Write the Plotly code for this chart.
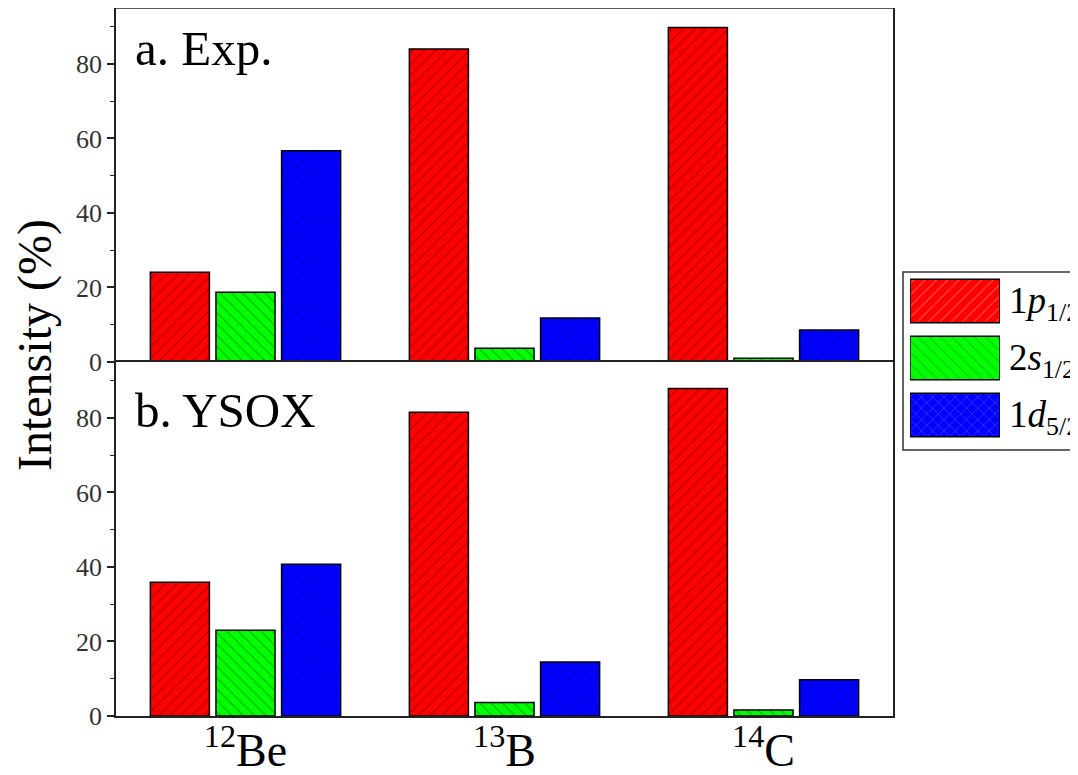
import plotly.graph_objects as go

# ---- data ----
nuclei = ["12Be", "13B", "14C"]
nuclei_labels = ["<sup>12</sup>Be", "<sup>13</sup>B", "<sup>14</sup>C"]
orbitals = ["1p1/2", "2s1/2", "1d5/2"]
orbital_labels = ["1<i>p</i><sub>1/2</sub>", "2<i>s</i><sub>1/2</sub>", "1<i>d</i><sub>5/2</sub>"]

exp_p12 = [24.1, 84.0, 89.8]
exp_s12 = [18.7, 3.7, 1.0]
exp_d52 = [56.7, 11.8, 8.6]

ysox_p12 = [35.9, 81.5, 87.9]
ysox_s12 = [23.0, 3.6, 1.6]
ysox_d52 = [40.7, 14.5, 9.7]

panel_titles = ["a. Exp.", "b. YSOX"]
colors = ["#ff0000", "#00ff00", "#0000ff"]
patterns = ["/", "\\", "x"]

FONT = "Liberation Serif, serif"
OFF = 8  # page body margin
W, H = 1078 - OFF, 775 - OFF
ML, MR, MT = 116 - OFF, 0, 8 - OFF
MB = H - (716 - OFF)
PW = W - ML - MR
PH = H - MT - MB


def px_x(px):
    return (px - OFF - ML) / PW


def px_y(py):
    return (H - MB - (py - OFF)) / PH


fig = go.Figure()

panels = [
    ("x", "y", [exp_p12, exp_s12, exp_d52]),
    ("x2", "y2", [ysox_p12, ysox_s12, ysox_d52]),
]
for xa, ya, series in panels:
    for vals, col, pat, name in zip(series, colors, patterns, orbitals):
        fig.add_trace(go.Bar(
            x=nuclei, y=vals, name=name, xaxis=xa, yaxis=ya,
            showlegend=False,
            marker=dict(color=col, line=dict(color="black", width=1.5),
                        pattern=dict(shape=pat, fgcolor="black", fgopacity=0.35,
                                     size=8, solidity=0.12)),
        ))

# custom legend swatches (patterned)
fig.add_trace(go.Bar(
    x=[1, 1, 1], y=[0, 1, 2], orientation="h", xaxis="x3", yaxis="y3",
    width=0.76, offset=-0.38, showlegend=False, hoverinfo="skip",
    marker=dict(color=colors, line=dict(color="black", width=1.5),
                pattern=dict(shape=patterns, fgcolor="black", fgopacity=0.35,
                             size=8, solidity=0.12)),
))

main_dom = [0, 777 / PW]
axis_common = dict(showline=True, linecolor="#222", linewidth=1.5, mirror=True,
                   showgrid=False, zeroline=False, automargin=False)
yaxis_common = dict(axis_common, range=[0, 95], dtick=20, tick0=0,
                    ticks="outside", ticklen=7, tickwidth=1.5, tickcolor="#222",
                    minor=dict(dtick=10, ticks="outside", ticklen=4, tickwidth=1.2, tickcolor="#222"),
                    tickfont=dict(family=FONT, size=26, color="#333"))

fig.update_layout(
    width=W, height=H,
    margin=dict(l=ML, r=MR, t=MT, b=MB, autoexpand=False),
    paper_bgcolor="white", plot_bgcolor="white",
    barmode="group", bargap=0.24, bargroupgap=0.1,
    xaxis=dict(domain=main_dom, anchor="y", type="category", showline=False,
               showgrid=False, zeroline=False, automargin=False,
               range=[-0.5, 2.5], showticklabels=False, ticks=""),
    yaxis=dict(yaxis_common, domain=[0.5, 1], anchor="x"),
    xaxis2=dict(axis_common, domain=main_dom, anchor="y2", type="category",
                range=[-0.5, 2.5], tickvals=nuclei, ticktext=nuclei_labels, ticks="",
                ticklabelstandoff=-7,
                tickfont=dict(family=FONT, size=46, color="black")),
    yaxis2=dict(yaxis_common, domain=[0, 0.5], anchor="x2"),
    xaxis3=dict(domain=[px_x(910), px_x(1000)], anchor="y3", range=[0, 1],
                visible=False, fixedrange=True, automargin=False),
    yaxis3=dict(domain=[px_y(443.5), px_y(272.5)], anchor="x3", range=[2.5, -0.5],
                visible=False, fixedrange=True, automargin=False),
    showlegend=False,
)

# top border of the upper panel
fig.add_shape(type="line", xref="paper", yref="paper", x0=main_dom[0], x1=main_dom[1],
              y0=1, y1=1, line=dict(color="#222", width=1.5))

# legend box
fig.add_shape(type="rect", xref="paper", yref="paper",
              x0=px_x(903), x1=px_x(1076), y0=px_y(450), y1=px_y(272),
              line=dict(color="#333", width=1.5), fillcolor="rgba(0,0,0,0)", layer="below")

# legend texts
for i, lab in enumerate(orbital_labels):
    cy = 303 + 57 * i
    fig.add_annotation(text=lab, xref="paper", yref="paper", x=px_x(1007), y=px_y(cy),
                       xanchor="left", yanchor="middle", showarrow=False,
                       font=dict(family=FONT, size=37, color="black"))

# panel labels
fig.add_annotation(text=panel_titles[0], xref="paper", yref="paper", x=px_x(133), y=px_y(49),
                   xanchor="left", yanchor="middle", showarrow=False,
                   font=dict(family=FONT, size=49, color="black"))
fig.add_annotation(text=panel_titles[1], xref="paper", yref="paper", x=px_x(133), y=px_y(410),
                   xanchor="left", yanchor="middle", showarrow=False,
                   font=dict(family=FONT, size=49, color="black"))

# y-axis title
fig.add_annotation(text="Intensity (%)", xref="paper", yref="paper", x=px_x(35), y=px_y(345),
                   xanchor="center", yanchor="middle", textangle=-90, showarrow=False,
                   font=dict(family=FONT, size=48, color="black"))

fig.write_html("out.html")
